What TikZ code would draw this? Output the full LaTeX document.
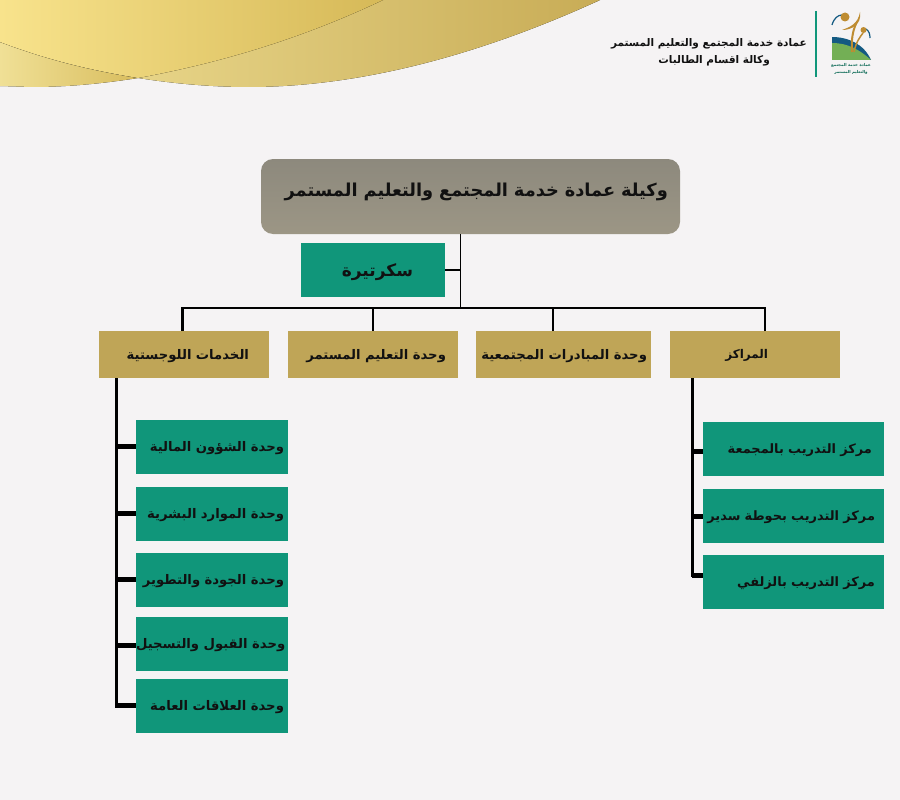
\documentclass[tikz,border=0pt]{standalone}
\usepackage{fontspec}
\usetikzlibrary{positioning}
\TeXXeTstate=1
\newfontfamily\arabicfont[Script=Arabic]{DejaVu Sans Bold}
\newcommand{\arlift}{-0.36em}
\newcommand{\ar}[2][0pt]{\raisebox{\arlift}[0pt][0pt]{{\arabicfont\beginR #2\endR}\hspace*{#1}}}
\definecolor{pagebg}{HTML}{F5F3F4}
\definecolor{unitgreen}{HTML}{10967A}
\definecolor{unitgold}{HTML}{BFA557}
\definecolor{headtop}{HTML}{8D897D}
\definecolor{headbot}{HTML}{9C9685}
\definecolor{inktext}{HTML}{111111}
\definecolor{swoosha}{RGB}{240,224,150}
\definecolor{swooshm}{RGB}{226,206,125}
\definecolor{swooshb}{RGB}{200,172,86}
\definecolor{swooshc}{RGB}{248,227,140}
\definecolor{swooshd}{RGB}{214,185,88}
\definecolor{logogold}{RGB}{190,140,50}
\definecolor{logoblue}{RGB}{20,90,130}
\definecolor{logogreen}{RGB}{115,175,85}
\tikzset{
  box/.style={rectangle, inner sep=0pt, align=right, text=inktext, font=\fontsize{13.2}{15}\selectfont},
  unit/.style={box, fill=unitgreen, text width=152pt, minimum height=54pt},
  trainbox/.style={box, fill=unitgreen, text width=181pt, minimum height=54pt, font=\fontsize{12.9}{15}\selectfont},
  dept/.style={box, fill=unitgold, minimum height=47pt},
  link/.style={draw=black, line width=#1},
  link/.default=2pt
}

\begin{document}
\begin{tikzpicture}[x=1pt, y=-1pt, on grid]
  \useasboundingbox[fill=pagebg] (0,0) rectangle (900,800);

  % gold swoosh
  \fill[left color=swoosha, middle color=swooshm, right color=swooshb]
    (0,0) -- (0,42) .. controls (80,72) and (170,87) .. (249,87)
    .. controls (360,87) and (480,55) .. (600,0) -- cycle;
  \fill[left color=swoosha, right color=swooshd!90!swoosha]
    (0,42) .. controls (50,61) and (95,71) .. (138,78)
    .. controls (100,84) and (65,87) .. (32,87) -- (0,86) -- cycle;
  \fill[left color=swooshc, right color=swooshd]
    (0,0) -- (0,42) .. controls (50,61) and (95,71) .. (138,78)
    .. controls (225,62) and (305,37) .. (383,0) -- cycle;

  % header
  \coordinate (rulea) at (815.5,11);
  \coordinate (ruleb) at (815.5,77);
  \draw[unitgreen, line width=2pt] (rulea) -- (ruleb);
  \node[box, anchor=east, font=\fontsize{10.5}{13}\selectfont] (dean) at (807,43) {\ar{عمادة خدمة المجتمع والتعليم المستمر}};
  \node[box, anchor=east, font=\fontsize{10.5}{13}\selectfont] (agency) at (770,60) {\ar{وكالة اقسام الطالبات}};

  % logo
  \fill[logoblue] (832,37) .. controls (848,37) and (864,44) .. (871,60) -- (832,60) -- cycle;
  \fill[logogreen] (832,43) .. controls (848,43) and (860,50) .. (871,60) -- (832,60) -- cycle;
  \draw[logoblue, line width=1.2pt] (832,25) .. controls (834,18) and (838,15) .. (842,15);
  \draw[logoblue, line width=1.2pt] (866,29) .. controls (869,31) and (870,34) .. (870,38);
  \fill[logogold] (860,12) .. controls (858,24) and (850,27) .. (842,30)
    .. controls (851,30) and (862,25) .. (860,12) -- cycle;
  \draw[logogold, line width=2pt] (856,24) .. controls (853,30) and (851,40) .. (852,52);
  \draw[logogold, line width=1.5pt] (863,33) .. controls (860,37) and (856,42) .. (854,52);
  \fill[logogold] (845,17) circle (4.5);
  \fill[logogold] (863.5,30) circle (3);
  \node[box, text=unitgreen!70!black, font=\fontsize{4}{7}\selectfont, align=center] (logotext) at (851,69) {\ar{عمادة خدمة المجتمع}\\\ar{والتعليم المستمر}};

  % top of the chart
  \node[box, rounded corners=12pt, top color=headtop, bottom color=headbot, text width=419pt, minimum height=75pt, font=\fontsize{17.8}{22}\selectfont] (head) at (470.5,196.5) {\renewcommand{\arlift}{0pt}\ar[12pt]{وكيلة عمادة خدمة المجتمع والتعليم المستمر}};
  \node[box, fill=unitgreen, text width=144pt, minimum height=54pt, font=\fontsize{17}{22}\selectfont] (sec) at (373,270) {\ar[32pt]{سكرتيرة}};
  \coordinate (spine) at (460.5,234);
  \coordinate (bus) at (460.5,308);

  % departments
  \node[dept, text width=170pt] (logistics) at (184,354.5) {\ar[20pt]{الخدمات اللوجستية}};
  \node[dept, text width=170pt] (education) [right=189pt of logistics] {\ar[12pt]{وحدة التعليم المستمر}};
  \node[dept, text width=175pt] (initiatives) [right=190.5pt of education] {\ar[4pt]{وحدة المبادرات المجتمعية}};
  \node[dept, text width=170pt, font=\fontsize{12}{15}\selectfont] (centers) [right=191.5pt of initiatives] {\ar[72pt]{المراكز}};

  % units under logistics
  \node[unit] (finance) at (212,447) {\ar[4pt]{وحدة الشؤون المالية}};
  \node[unit] (staff) [below=67pt of finance] {\ar[4pt]{وحدة الموارد البشرية}};
  \node[unit] (quality) [below=66pt of staff] {\ar[4pt]{وحدة الجودة والتطوير}};
  \node[unit] (admission) [below=64pt of quality] {\ar[4pt]{وحدة القبول والتسجيل}};
  \node[unit] (relations) [below=62pt of admission] {\ar[4pt]{وحدة العلاقات العامة}};

  % training centers
  \node[trainbox] (majmaah) at (793.5,449) {\ar[12pt]{مركز التدريب بالمجمعة}};
  \node[trainbox] (sudair) [below=67pt of majmaah] {\ar[9pt]{مركز التدريب بحوطة سدير}};
  \node[trainbox] (zulfi) [below=66pt of sudair] {\ar[9pt]{مركز التدريب بالزلفي}};

  \coordinate (leftbus) at (181,308);
  \coordinate (rightbus) at (766,308);
  \coordinate (leftdrop) at (116,378);
  \coordinate (rightdrop) at (692,378);
  \coordinate (logtop) at (182.5,331);
  \coordinate (logbus) at (182.5,308);
  \coordinate (initop) at (553,331);
  \coordinate (inibus) at (553,308);
  \coordinate (cenbus) at (765,308);
  \coordinate (centop) at (765,331);
  \coordinate (leftend) at (116,707.5);
  \coordinate (rightend) at (692,577);

  \draw[link=1.5pt] (spine) -- (bus);
  \draw[link=2pt] (sec.east) -- (sec.east -| spine);
  \draw[link=2.5pt] (leftbus) -- (rightbus);
  \draw[link=3.5pt] (logtop) -- (logbus);
  \draw[link] (education.north) -- (education.north |- bus);
  \draw[link] (initop) -- (inibus);
  \draw[link] (centop) -- (cenbus);

  \draw[link=3pt] (leftdrop) -- (leftend);
  \draw[link=3pt] (rightdrop) -- (rightend);
  \foreach \unitname/\dy in {finance/1, staff/1, quality/1, admission/-1, relations/1}
    \draw[link=5pt] ([yshift=\dy pt]\unitname.west) -- ([yshift=\dy pt]\unitname.west -| leftdrop);
  \foreach \unitname/\dy in {majmaah/-2, sudair/0, zulfi/7}
    \draw[link=5pt] ([yshift=\dy pt]\unitname.west) -- ([yshift=\dy pt]\unitname.west -| rightdrop);
\end{tikzpicture}
\end{document}
